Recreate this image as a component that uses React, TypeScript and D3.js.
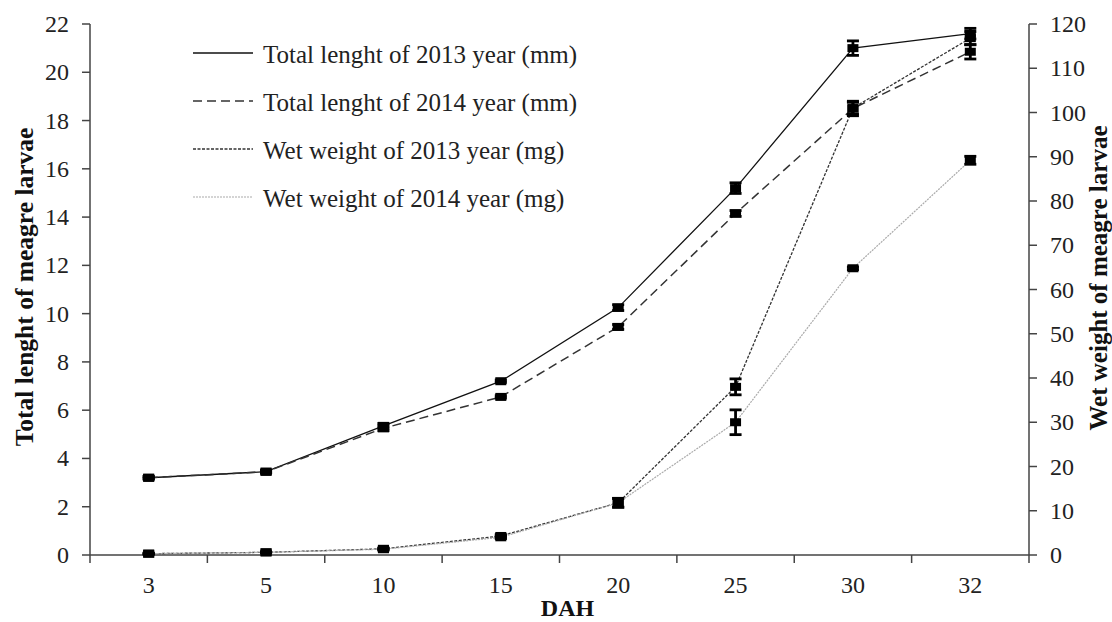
import React from "react";
import * as d3 from "d3";

const categories = ["3", "5", "10", "15", "20", "25", "30", "32"];
const tl2013 = [3.2, 3.45, 5.35, 7.2, 10.25, 15.2, 21.0, 21.6];
const tl2013Err = [0.05, 0.05, 0.1, 0.05, 0.12, 0.22, 0.3, 0.22];
const tl2014 = [3.2, 3.45, 5.25, 6.55, 9.45, 14.15, 18.5, 20.85];
const tl2014Err = [0.05, 0.05, 0.1, 0.05, 0.1, 0.12, 0.3, 0.3];
const ww2013 = [0.3, 0.6, 1.4, 4.3, 11.8, 38.0, 101.0, 116.8];
const ww2013Err = [0.1, 0.1, 0.2, 0.3, 1.0, 1.8, 1.3, 1.5];
const ww2014 = [0.3, 0.6, 1.3, 4.0, 11.8, 30.0, 64.8, 89.2];
const ww2014Err = [0.1, 0.1, 0.2, 0.3, 1.0, 2.8, 0.3, 0.9];
const leftTicks = [0, 2, 4, 6, 8, 10, 12, 14, 16, 18, 20, 22];
const rightTicks = [0, 10, 20, 30, 40, 50, 60, 70, 80, 90, 100, 110, 120];
const legendLabels = [
  "Total lenght of 2013 year (mm)",
  "Total lenght of 2014 year (mm)",
  "Wet weight of 2013 year (mg)",
  "Wet weight of 2014 year (mg)",
];

const W = 1112;
const H = 622;
const L = 90;
const R = 1029;
const T = 24;
const B = 555;
const FONT = "'Liberation Serif', 'Times New Roman', serif";

const x = d3.scaleBand<string>().domain(categories).range([L, R]).padding(0);
const yL = d3.scaleLinear().domain([0, 22]).range([B, T]);
const yR = d3.scaleLinear().domain([0, 120]).range([B, T]);
const cx = (c: string) => (x(c) ?? 0) + x.bandwidth() / 2;

type Series = {
  values: number[];
  errs: number[];
  scale: d3.ScaleLinear<number, number>;
  stroke: string;
  width: number;
  dash: string;
};

const series: Series[] = [
  { values: tl2013, errs: tl2013Err, scale: yL, stroke: "#111", width: 1.3, dash: "" },
  { values: tl2014, errs: tl2014Err, scale: yL, stroke: "#333", width: 1.5, dash: "9,5" },
  { values: ww2013, errs: ww2013Err, scale: yR, stroke: "#333", width: 1.3, dash: "3,1.5" },
  { values: ww2014, errs: ww2014Err, scale: yR, stroke: "#aaa", width: 1.2, dash: "2,1" },
];

export default function App() {
  const line = (s: Series) =>
    d3
      .line<number>()
      .x((_, i) => cx(categories[i]))
      .y((v) => s.scale(v))(s.values) ?? "";

  const boundaries = d3.range(categories.length + 1).map((i) => L + i * x.bandwidth());

  return (
    <svg
      width={W}
      height={H}
      style={{ position: "absolute", left: 0, top: 0, background: "#fff" }}
      fontFamily={FONT}
    >
      {/* axes */}
      <line x1={L} x2={R} y1={B} y2={B} stroke="#444" strokeWidth={1.5} />
      <line x1={L} x2={L} y1={T} y2={B} stroke="#444" strokeWidth={1.5} />
      <line x1={R} x2={R} y1={T} y2={B} stroke="#444" strokeWidth={1.5} />
      {boundaries.map((b, i) => (
        <line key={"xt" + i} x1={b} x2={b} y1={B} y2={B + 8} stroke="#444" strokeWidth={1.5} />
      ))}
      {categories.map((c) => (
        <text key={"xl" + c} x={cx(c)} y={593} fontSize={24} textAnchor="middle" fill="#222">
          {c}
        </text>
      ))}
      {leftTicks.map((t) => (
        <g key={"lt" + t}>
          <line x1={L - 8} x2={L} y1={yL(t)} y2={yL(t)} stroke="#444" strokeWidth={1.5} />
          <text x={69} y={yL(t) + 8} fontSize={24} textAnchor="end" fill="#222">
            {t}
          </text>
        </g>
      ))}
      {rightTicks.map((t) => (
        <g key={"rt" + t}>
          <line x1={R} x2={R + 8} y1={yR(t)} y2={yR(t)} stroke="#444" strokeWidth={1.5} />
          <text x={1050} y={yR(t) + 8} fontSize={24} textAnchor="start" fill="#222">
            {t}
          </text>
        </g>
      ))}
      <text x={(L + R) / 2 + 8} y={616} fontSize={24} fontWeight="bold" textAnchor="middle" fill="#111">
        DAH
      </text>
      <text
        transform={`translate(33, ${287}) rotate(-90)`}
        fontSize={25.5}
        fontWeight="bold"
        textAnchor="middle"
        fill="#111"
      >
        Total lenght of meagre larvae
      </text>
      <text
        transform={`translate(1107, ${278}) rotate(-90)`}
        fontSize={25}
        fontWeight="bold"
        textAnchor="middle"
        fill="#111"
      >
        Wet weight of meagre larvae
      </text>

      {/* lines */}
      {series.map((s, i) => (
        <path
          key={"ln" + i}
          d={line(s)}
          fill="none"
          stroke={s.stroke}
          strokeWidth={s.width}
          strokeDasharray={s.dash}
        />
      ))}
      {/* markers + error bars */}
      {series.map((s, si) =>
        s.values.map((v, i) => {
          const px = cx(categories[i]);
          const y0 = s.scale(v + s.errs[i]);
          const y1 = s.scale(v - s.errs[i]);
          return (
            <g key={"m" + si + "-" + i}>
              <rect x={px - 5.5} y={s.scale(v) - 4} width={11} height={8} fill="#000" />
              <line x1={px} x2={px} y1={y0} y2={y1} stroke="#000" strokeWidth={2.8} />
              <line x1={px - 6} x2={px + 6} y1={y0} y2={y0} stroke="#000" strokeWidth={2.8} />
              <line x1={px - 6} x2={px + 6} y1={y1} y2={y1} stroke="#000" strokeWidth={2.8} />
            </g>
          );
        })
      )}

      {/* legend */}
      {legendLabels.map((lab, i) => {
        const ly = 53 + i * 48;
        const s = series[i];
        return (
          <g key={"lg" + i}>
            <line
              x1={193}
              x2={253}
              y1={ly}
              y2={ly}
              stroke={s.stroke}
              strokeWidth={s.width}
              strokeDasharray={s.dash}
            />
            <text x={263} y={ly + 10} fontSize={25} fill="#222">
              {lab}
            </text>
          </g>
        );
      })}
    </svg>
  );
}
